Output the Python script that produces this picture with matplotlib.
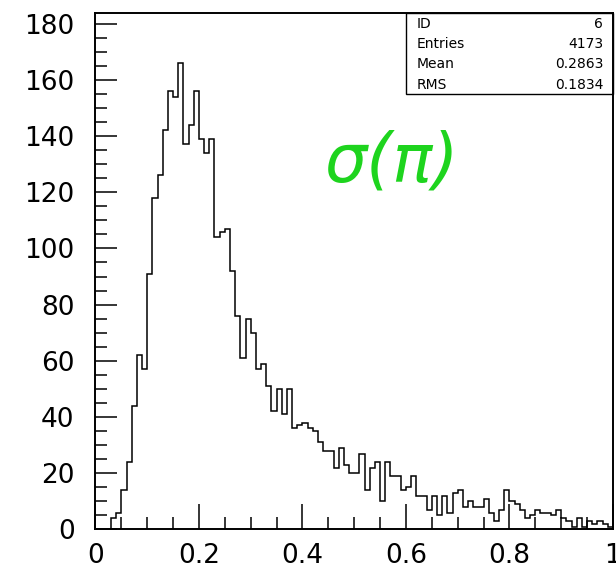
import numpy as np
import matplotlib.pyplot as plt
from matplotlib.patches import Rectangle
from matplotlib.ticker import MultipleLocator

# histogram: 100 bins from 0 to 1
edges = np.linspace(0, 1, 101)
counts = [0, 0, 0, 4, 6, 14, 24, 44, 62, 57,
          91, 118, 126, 142, 156, 154, 166, 137, 144, 156,
          139, 134, 139, 104, 106, 107, 92, 76, 61, 75,
          70, 57, 59, 51, 42, 50, 41, 50, 36, 37,
          38, 36, 35, 31, 28, 28, 22, 29, 23, 20,
          20, 27, 14, 22, 24, 10, 24, 19, 19, 14,
          15, 19, 12, 12, 7, 12, 5, 12, 6, 13,
          14, 8, 10, 8, 8, 11, 6, 3, 7, 14,
          10, 9, 7, 4, 5, 7, 6, 6, 5, 7,
          4, 3, 1, 4, 1, 3, 2, 3, 2, 1]

x_ticks = [0, 0.2, 0.4, 0.6, 0.8, 1]
x_labels = ["0", "0.2", "0.4", "0.6", "0.8", "1"]
y_ticks = list(range(0, 181, 20))

stat_names = ["ID", "Entries", "Mean", "RMS"]
stat_values = ["6", "4173", "0.2863", "0.1834"]

fig = plt.figure(figsize=(6.16, 5.71), dpi=100)
ax = fig.add_axes([0.155, 0.0727, 0.840, 0.9046])

ax.stairs(counts, edges, color="k", lw=1.1)
ax.set_xlim(0, 1)
ax.set_ylim(0, max(counts) * 1.107)

ax.set_xticks(x_ticks)
ax.set_xticklabels(x_labels)
ax.set_yticks(y_ticks)
ax.xaxis.set_minor_locator(MultipleLocator(0.05))
ax.yaxis.set_minor_locator(MultipleLocator(5))
ax.tick_params(which="both", direction="in", width=1.1, top=False, right=False)
ax.tick_params(axis="x", which="major", length=18, pad=10)
ax.tick_params(axis="y", which="major", length=16, pad=15)
ax.tick_params(which="minor", length=8.5)
for lab in ax.get_xticklabels() + ax.get_yticklabels():
    lab.set_fontsize(19)
    lab.set_fontfamily("DejaVu Sans")
for sp in ax.spines.values():
    sp.set_linewidth(1.4)

# statistics box in the upper right corner
ax.add_patch(Rectangle((0.6, 0.843), 0.4, 0.157, transform=ax.transAxes,
                       fill=False, lw=1.0, ec="k", clip_on=False))
for i, (name, val) in enumerate(zip(stat_names, stat_values)):
    yy = 0.979 - i * 0.0393
    ax.text(0.621, yy, name, transform=ax.transAxes, ha="left", va="center",
            fontsize=10)
    ax.text(0.981, yy, val, transform=ax.transAxes, ha="right", va="center",
            fontsize=10)

# green hand-written label
ax.text(0.573, 0.71, "σ(π)", transform=ax.transAxes, ha="center", va="center",
        fontsize=48, style="italic", color="#1ed41e")

fig.savefig("out.png", dpi=100)
